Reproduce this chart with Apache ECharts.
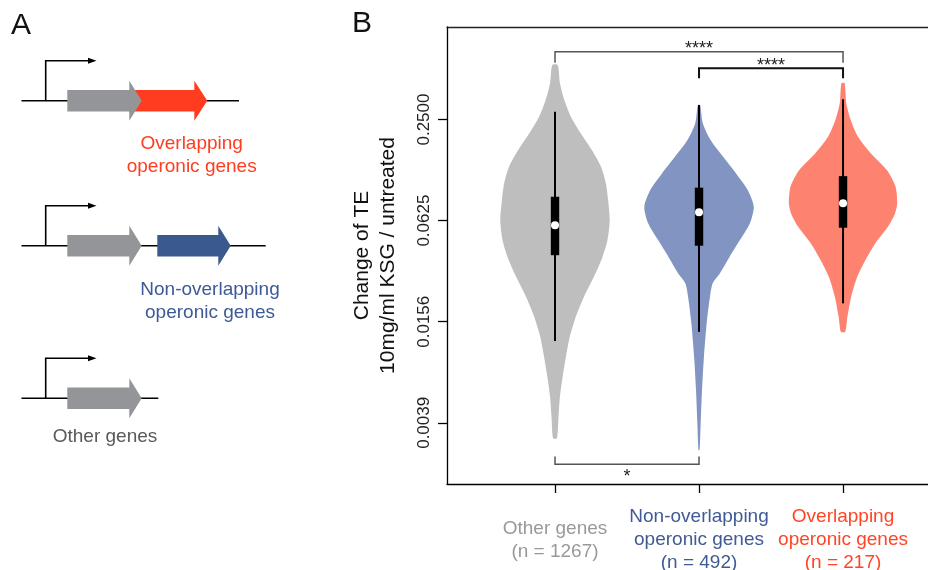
<!DOCTYPE html>
<html><head><meta charset="utf-8">
<script src="https://cdn.jsdelivr.net/npm/echarts@6/dist/echarts.min.js"></script>
<style>html,body{margin:0;padding:0;background:#fff}#c{width:928px;height:570px}</style>
</head><body><div id="c"></div>
<script>
// ---- data ----
const categories = ['Other genes', 'Non-overlapping\noperonic genes', 'Overlapping\noperonic genes'];
const counts = [1267, 492, 217];
const yTicks = [0.00390625, 0.015625, 0.0625, 0.25];

// violin outlines: TE ratio values (top -> bottom) and relative density width
const otherY = [0.528, 0.411, 0.327, 0.260, 0.207, 0.165, 0.131, 0.104, 0.0829, 0.0630, 0.0480, 0.0381, 0.0289, 0.0220, 0.0167, 0.0127, 0.00967, 0.00735, 0.00558, 0.00424, 0.00316];
const otherW = [0.05, 0.09, 0.17, 0.29, 0.47, 0.67, 0.84, 0.93, 0.97, 1.0, 0.96, 0.87, 0.71, 0.53, 0.38, 0.27, 0.2, 0.14, 0.09, 0.064, 0.036];
const nonOvY = [0.305, 0.237, 0.189, 0.150, 0.119, 0.0951, 0.0757, 0.0603, 0.0480, 0.0381, 0.0303, 0.0265, 0.0220, 0.0153, 0.00967, 0.00612, 0.00388, 0.00269];
const nonOvW = [0.02, 0.07, 0.21, 0.44, 0.68, 0.89, 1.0, 0.93, 0.75, 0.56, 0.38, 0.25, 0.2, 0.14, 0.09, 0.055, 0.03, 0.01];
const ovY = [0.411, 0.312, 0.248, 0.198, 0.157, 0.125, 0.0995, 0.0792, 0.0690, 0.0574, 0.0458, 0.0364, 0.0289, 0.0220, 0.0167, 0.0136];
const ovW = [0.03, 0.06, 0.14, 0.27, 0.51, 0.8, 0.96, 0.99, 0.95, 0.82, 0.59, 0.41, 0.26, 0.15, 0.08, 0.04];

// box stats: [lower whisker, Q1, median, Q3, upper whisker]
const otherBox = [0.0120, 0.0389, 0.0587, 0.0867, 0.278];
const nonOvBox = [0.0136, 0.0443, 0.0700, 0.0982, 0.305];
const ovBox = [0.0201, 0.0567, 0.0792, 0.115, 0.330];

// significance brackets
const bracketFrom = [1, 2, 1];
const bracketTo = [3, 3, 2];
const bracketLevel = [0.633, 0.505, 0.00221];
const bracketEnd = [0.544, 0.440, 0.00246];
const bracketLabel = ['****', '****', '*'];

// ---- styles ----
const FONT = '"Liberation Sans", Arial, sans-serif';
const violinColors = ['#bebebe', '#8294c2', '#fd8270'];
const labelColors = ['#98999c', '#3f5a95', '#ff4526'];
const bracketColors = ['#555555', '#111111', '#555555'];
const bracketWidths = [1.5, 2, 1.5];
const groups = [
  {y: otherY, w: otherW, box: otherBox},
  {y: nonOvY, w: nonOvW, box: nonOvBox},
  {y: ovY, w: ovW, box: ovBox}
];
const L2 = v => Math.log2(v);
const HALF = 0.38;

function violinItem(params, api) {
  const i = params.dataIndex;
  const g = groups[i];
  const xc = api.value(0);
  const pts = [];
  for (let k = 0; k < g.y.length; k++) pts.push(api.coord([xc + g.w[k] * HALF, L2(g.y[k])]));
  for (let k = g.y.length - 1; k >= 0; k--) pts.push(api.coord([xc - g.w[k] * HALF, L2(g.y[k])]));
  const b = g.box;
  const wl = api.coord([xc, L2(b[0])]), q1 = api.coord([xc, L2(b[1])]),
        md = api.coord([xc, L2(b[2])]), q3 = api.coord([xc, L2(b[3])]), wh = api.coord([xc, L2(b[4])]);
  return {
    type: 'group',
    children: [
      {type: 'polygon', shape: {points: pts, smooth: 0.25}, style: {fill: violinColors[i], stroke: null}},
      {type: 'line', shape: {x1: wl[0], y1: wl[1], x2: wh[0], y2: wh[1]}, style: {stroke: '#000', lineWidth: 2}},
      {type: 'rect', shape: {x: q3[0] - 4.2, y: q3[1], width: 8.4, height: q1[1] - q3[1]}, style: {fill: '#000'}},
      {type: 'circle', shape: {cx: md[0], cy: md[1], r: 4}, style: {fill: '#fff'}}
    ]
  };
}

function bracketItem(params, api) {
  const i = params.dataIndex;
  const yl = L2(bracketLevel[i]), ye = L2(bracketEnd[i]);
  const p1 = api.coord([bracketFrom[i], ye]), p2 = api.coord([bracketFrom[i], yl]);
  const p3 = api.coord([bracketTo[i], yl]), p4 = api.coord([bracketTo[i], ye]);
  const above = bracketLevel[i] > bracketEnd[i];
  return {
    type: 'group',
    children: [
      {type: 'polyline', shape: {points: [p1, p2, p3, p4]}, style: {stroke: bracketColors[i], lineWidth: bracketWidths[i], fill: null}},
      {type: 'text', style: {text: bracketLabel[i], x: (p2[0] + p3[0]) / 2, y: above ? p2[1] - 2.5 : p2[1] + 13,
        align: 'center', verticalAlign: 'middle', font: '18px ' + FONT, fill: '#222'}}
    ]
  };
}

const rich = {};
labelColors.forEach((c, i) => { rich['c' + i] = {color: c, fontSize: 19, lineHeight: 23, fontFamily: FONT}; });

// ---- panel A schematic ----
const rowY = [100.7, 245.7, 398.3];
function arrowPts(x0, x1, x2, yc) {
  return [[x0, yc - 10.8], [x1, yc - 10.8], [x1, yc - 20], [x2, yc], [x1, yc + 20], [x1, yc + 10.8], [x0, yc + 10.8]];
}
function promoter(yc) {
  return [
    {type: 'polyline', shape: {points: [[45.7, yc], [45.7, yc - 40], [89, yc - 40]]}, style: {stroke: '#000', lineWidth: 1.6, fill: null}},
    {type: 'polygon', shape: {points: [[88, yc - 43], [96.5, yc - 40], [88, yc - 37]]}, style: {fill: '#000'}}
  ];
}
const graphics = [
  {type: 'text', style: {text: 'A', x: 11, y: 26, font: '30px ' + FONT, fill: '#111', verticalAlign: 'middle'}},
  {type: 'text', style: {text: 'B', x: 352, y: 24, font: '30px ' + FONT, fill: '#111', verticalAlign: 'middle'}},
  // row 1
  {type: 'line', shape: {x1: 21.5, y1: rowY[0], x2: 239, y2: rowY[0]}, style: {stroke: '#000', lineWidth: 1.6}},
  ...promoter(rowY[0]),
  {type: 'polygon', shape: {points: arrowPts(129, 194.3, 207.3, rowY[0])}, style: {fill: '#ff3c1f'}},
  {type: 'polygon', shape: {points: arrowPts(67.3, 129.3, 141.7, rowY[0])}, style: {fill: '#939598'}},
  {type: 'text', style: {text: 'Overlapping\noperonic genes', x: 191.7, y: 155, font: '19px ' + FONT, lineHeight: 23, align: 'center', verticalAlign: 'middle', fill: '#ff3c1f'}},
  // row 2
  {type: 'line', shape: {x1: 21.5, y1: rowY[1], x2: 265.7, y2: rowY[1]}, style: {stroke: '#000', lineWidth: 1.6}},
  ...promoter(rowY[1]),
  {type: 'polygon', shape: {points: arrowPts(67.3, 129.3, 141.7, rowY[1])}, style: {fill: '#939598'}},
  {type: 'polygon', shape: {points: arrowPts(157.3, 218.3, 230.7, rowY[1])}, style: {fill: '#3a5a8e'}},
  {type: 'text', style: {text: 'Non-overlapping\noperonic genes', x: 210, y: 301.7, font: '19px ' + FONT, lineHeight: 23, align: 'center', verticalAlign: 'middle', fill: '#3d5a96'}},
  // row 3
  {type: 'line', shape: {x1: 21.5, y1: rowY[2], x2: 158.3, y2: rowY[2]}, style: {stroke: '#000', lineWidth: 1.6}},
  ...promoter(rowY[2]),
  {type: 'polygon', shape: {points: arrowPts(67.3, 129.3, 141.7, rowY[2])}, style: {fill: '#939598'}},
  {type: 'text', style: {text: 'Other genes', x: 105, y: 436.7, font: '19px ' + FONT, align: 'center', verticalAlign: 'middle', fill: '#58595b'}}
];

const XMIN = 0.25, XMAX = 3.59;
const chart = echarts.init(document.getElementById('c'), null, {renderer: 'canvas'});
chart.setOption({
  backgroundColor: '#fff',
  animation: false,
  textStyle: {fontFamily: FONT},
  graphic: graphics,
  grid: {left: 447, top: 27, bottom: 86, right: 0, show: false, containLabel: false, outerBoundsMode: 'none'},
  xAxis: [{
    type: 'value', min: XMIN, max: XMAX, position: 'bottom',
    axisLine: {show: true, onZero: false, lineStyle: {color: '#000', width: 1.3}},
    axisTick: {show: true, length: 9, customValues: [1, 2, 3], lineStyle: {color: '#000', width: 1.3}},
    splitLine: {show: false},
    axisLabel: {
      customValues: [1, 2, 3], margin: 56, verticalAlign: 'middle',
      formatter: v => {
        const i = Math.round(v) - 1;
        const lines = (categories[i] + '\n(n = ' + counts[i] + ')').split('\n');
        return lines.map(s => '{c' + i + '|' + s + '}').join('\n');
      },
      rich: rich
    }
  }, {
    type: 'value', min: XMIN, max: XMAX, position: 'top',
    axisLine: {show: true, onZero: false, lineStyle: {color: '#222', width: 1.3}},
    axisTick: {show: false}, axisLabel: {show: false}, splitLine: {show: false}
  }],
  yAxis: {
    type: 'value', min: -9.21, max: -0.17,
    name: 'Change of TE\n10mg/ml KSG / untreated',
    nameLocation: 'middle', nameRotate: 90, nameGap: 46,
    nameTextStyle: {fontSize: 21, lineHeight: 26, color: '#111', fontFamily: FONT},
    axisLine: {show: true, onZero: false, lineStyle: {color: '#000', width: 1.3}},
    axisTick: {show: true, length: 9, customValues: yTicks.map(L2), lineStyle: {color: '#000', width: 1.3}},
    splitLine: {show: false},
    axisLabel: {
      customValues: yTicks.map(L2), rotate: 90, margin: 14, fontSize: 17, color: '#222', fontFamily: FONT,
      formatter: v => Math.pow(2, v).toFixed(4)
    }
  },
  series: [
    {type: 'custom', name: 'violin', renderItem: violinItem, data: [[1], [2], [3]], clip: false, z: 2},
    {type: 'custom', name: 'brackets', renderItem: bracketItem, data: bracketFrom.map((f, i) => [f, L2(bracketLevel[i])]), clip: false, z: 3}
  ]
});
</script></body></html>
